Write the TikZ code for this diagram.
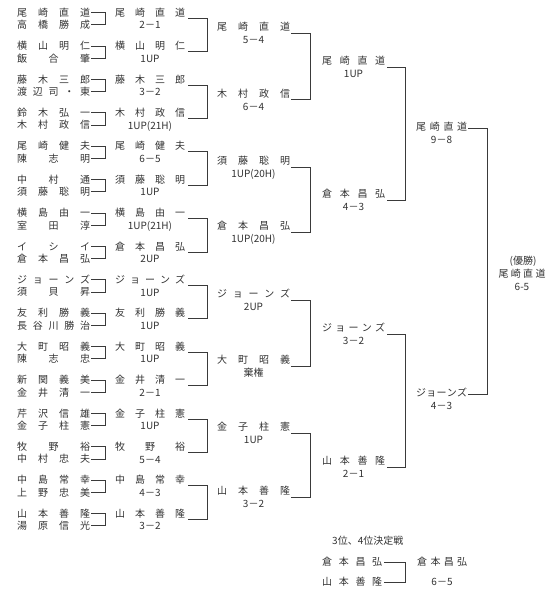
\documentclass[tikz,border=0pt]{standalone}
\usepackage{fontspec}
\setmainfont{Noto Sans CJK JP}
\definecolor{tx}{HTML}{333333}
\definecolor{lc}{HTML}{3A3A3A}
\makeatletter
\def\dosp#1{\ifx#1\relax\else #1\expandafter\dospnext\fi}
\def\dospnext#1{\ifx#1\relax\else\hfill #1\expandafter\dospnext\fi}
\newcommand\spreadname[2]{\edef\sptmp{#2}\makebox[#1][s]{\expandafter\dosp\sptmp\relax}}
\makeatother
\begin{document}
\begin{tikzpicture}[x=1pt,y=-1pt,
  nm/.style={inner sep=0pt,text height=8.8pt,text depth=1.2pt,font=\fontsize{10}{12}\selectfont,text=tx,anchor=west},
  sc/.style={inner sep=0pt,text height=8.8pt,text depth=1.2pt,font=\fontsize{10}{12}\selectfont,text=tx,anchor=center},
  ln/.style={draw=lc,line width=0.7pt}]
\fill[white] (0,0) rectangle (550,600);
\useasboundingbox (0,0) rectangle (550,600);
% Round 1
\foreach \i/\p/\q in {0/尾崎直道/高橋勝成,1/横山明仁/飯合肇,2/藤木三郎/渡辺司・東,3/鈴木弘一/木村政信,
  4/尾崎健夫/陳志明,5/中村通/須藤聡明,6/横島由一/室田淳,7/イシイ/倉本昌弘,
  8/ジョーンズ/須貝昇,9/友利勝義/長谷川勝治,10/大町昭義/陳志忠,11/新関義美/金井清一,
  12/芹沢信雄/金子柱憲,13/牧野裕/中村忠夫,14/中島常幸/上野忠美,15/山本善隆/湯原信光}{
  \pgfmathsetmacro\yy{12.5+33.4*\i}
  \node[nm] (a\i-t) at (17,\yy) {\spreadname{73pt}{\p}};
  \node[nm] (a\i-b) at (17,\yy+12.3) {\spreadname{73pt}{\q}};
  \draw[ln] ([xshift=1pt]a\i-t.east) -- ++(14,0) |- ([xshift=1pt]a\i-b.east);
}
% Round 2
\foreach \i/\n/\s in {0/尾崎直道/2－1,1/横山明仁/1UP,2/藤木三郎/3－2,3/木村政信/1UP(21H),
  4/尾崎健夫/6－5,5/須藤聡明/1UP,6/横島由一/1UP(21H),7/倉本昌弘/2UP,
  8/ジョーンズ/1UP,9/友利勝義/1UP,10/大町昭義/1UP,11/金井清一/2－1,
  12/金子柱憲/1UP,13/牧野裕/5－4,14/中島常幸/4－3,15/山本善隆/3－2}{
  \pgfmathsetmacro\yy{12.5+33.4*\i}
  \node[nm] (b\i) at (115,\yy) {\spreadname{70pt}{\n}};
  \node[sc] (sb\i) at (150,\yy+12.6) {\s};
}
\foreach \j in {0,2,...,14}{
  \pgfmathtruncatemacro\k{\j+1}
  \draw[ln] ([shift={(3,5.7)}]b\j.east) -- ++(19,0) |- ([shift={(3,5.7)}]b\k.east);
}
% Round 3
\foreach \i/\L/\n/\s in {0/33/尾崎直道/5－4,1/99.5/木村政信/6－4,2/167/須藤聡明/1UP(20H),3/232/倉本昌弘/1UP(20H),
  4/300/ジョーンズ/2UP,5/366/大町昭義/棄権,6/433/金子柱憲/1UP,7/497/山本善隆/3－2}{
  \node[nm] (c\i) at (217,\L-6) {\spreadname{73pt}{\n}};
  \node[sc] (sc\i) at (253.5,\L+7) {\s};
}
\foreach \j in {0,2,4,6}{
  \pgfmathtruncatemacro\k{\j+1}
  \draw[ln] ([shift={(1,6)}]c\j.east) -- ++(19,0) |- ([shift={(1,6)}]c\k.east);
}
% Round 4
\foreach \i/\M/\n/\s in {0/67/尾崎直道/1UP,1/200/倉本昌弘/4－3,2/334/ジョーンズ/3－2,3/467/山本善隆/2－1}{
  \node[nm] (d\i) at (322,\M-6.5) {\spreadname{63pt}{\n}};
  \node[sc] (sd\i) at (353.5,\M+6.5) {\s};
}
\foreach \j in {0,2}{
  \pgfmathtruncatemacro\k{\j+1}
  \draw[ln] ([shift={(2,6.5)}]d\j.east) -- ++(18,0) |- ([shift={(2,6.5)}]d\k.east);
}
% Round 5
\node[nm] (e0) at (416,127) {\spreadname{51pt}{尾崎直道}};
\node[sc] (se0) at (441.5,140) {9－8};
\node[nm] (e1) at (416,393) {\spreadname{51pt}{ジョーンズ}};
\node[sc] (se1) at (441.5,406) {4－3};
\draw[ln] ([shift={(1,1)}]e0.east) -- ++(19,0) |- ([shift={(1,1)}]e1.east);
% Final
\node[sc] (f0) at (523,261) {(優勝)};
\node[sc] (f1) at (522,274) {\spreadname{47pt}{尾崎直道}};
\node[sc] (f2) at (522,287) {6-5};
% Third place
\node[nm] (g0) at (332,541) {3位、4位決定戦};
\node[nm] (g1) at (322,562) {\spreadname{60pt}{倉本昌弘}};
\node[nm] (g2) at (322,582) {\spreadname{60pt}{山本善隆}};
\draw[ln] ([xshift=2pt]g1.east) -- ++(21,0) |- ([xshift=2pt]g2.east);
\node[nm] (g3) at (417,562) {\spreadname{50pt}{倉本昌弘}};
\node[sc] (g4) at (442,582) {6－5};
\end{tikzpicture}
\end{document}
